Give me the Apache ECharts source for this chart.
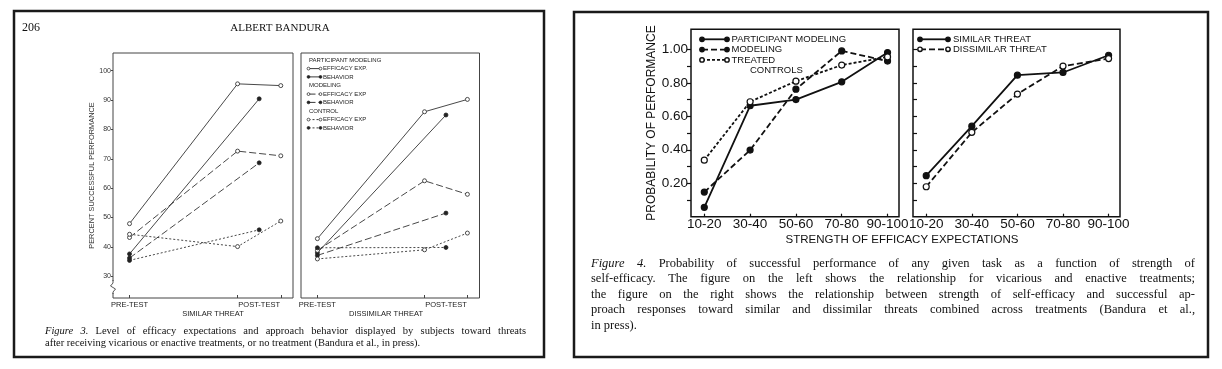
<!DOCTYPE html>
<html>
<head>
<meta charset="utf-8">
<script src="https://cdn.jsdelivr.net/npm/echarts@6/dist/echarts.min.js"></script>
<style>
  html, body { margin: 0; padding: 0; background: #fff; }
  #main { width: 1222px; height: 369px; }
</style>
</head>
<body>
<div id="main"></div>
<script>
// ---- figure 3 data (percent successful performance) ----
const phaseLabels = ["PRE-TEST", "POST-TEST"];
const phaseLabelX = [0, 1.2];
const phaseTickX = [0, 1, 1.4];
const efficacyX = [0, 1, 1.4]; // pre-test, post-test, follow-up
const behaviorX = [0, 1.2];
const fig3Ticks = [30, 40, 50, 60, 70, 80, 90, 100];
const fig3Groups = ["PARTICIPANT MODELING", "MODELING", "CONTROL"];
const fig3Measures = [
  ["EFFICACY EXP.", "BEHAVIOR"],
  ["EFFICACY EXP", "BEHAVIOR"],
  ["EFFICACY EXP", "BEHAVIOR"],
];
// rows: participant modeling, modeling, control
const similarEfficacy = [[47.9, 95.5, 94.9], [43.2, 72.6, 71.0], [44.3, 40.1, 48.8]];
const similarBehavior = [[37.6, 90.4], [36.2, 68.6], [35.4, 45.8]];
const dissimilarEfficacy = [[42.8, 86.0, 90.2], [38.8, 62.5, 57.9], [35.9, 39.0, 44.7]];
const dissimilarBehavior = [[38.0, 84.9], [37.1, 51.5], [39.7, 39.8]];

// ---- figure 4 data (probability of performance) ----
const strengthCats = ["10-20", "30-40", "50-60", "70-80", "90-100"];
const fig4Ticks = [0.1, 0.2, 0.3, 0.4, 0.5, 0.6, 0.7, 0.8, 0.9, 1.0];
const fig4Labels = [0.2, 0.4, 0.6, 0.8, 1.0];
const participantModeling = [0.056, 0.663, 0.70, 0.806, 0.981];
const modeling = [0.147, 0.398, 0.762, 0.991, 0.93];
const treatedControls = [0.338, 0.687, 0.81, 0.906, 0.955];
const similarThreat = [0.245, 0.541, 0.846, 0.862, 0.965];
const dissimilarThreat = [0.179, 0.504, 0.733, 0.90, 0.945];

const fig3Caption = [
  "Figure 3. Level of efficacy expectations and approach behavior displayed by subjects toward threats",
  "after receiving vicarious or enactive treatments, or no treatment (Bandura et al., in press).",
];
const fig4Caption = [
  "Figure 4. Probability of successful performance of any given task as a function of strength of",
  "self-efficacy. The figure on the left shows the relationship for vicarious and enactive treatments;",
  "the figure on the right shows the relationship between strength of self-efficacy and successful ap-",
  "proach responses toward similar and dissimilar threats combined across treatments (Bandura et al.,",
  "in press).",
];

const SANS = "Liberation Sans";
const SERIF = "Liberation Serif";
const fig3Dash = ["solid", [7, 3], [2, 2]];
const fig3Color = "#333";
const fig4Color = "#111";

const pairs = (xs, ys) => ys.map((v, i) => [xs[i], v]);
const catIdx = strengthCats.map((c, i) => i);

function fig3Series(name, grid, xs, ys, dash, filled) {
  return {
    name, type: "line", xAxisIndex: grid, yAxisIndex: grid,
    data: pairs(xs, ys), symbol: "circle", symbolSize: 4, silent: true,
    lineStyle: { color: fig3Color, width: 0.9, type: dash },
    itemStyle: { color: filled ? "#222" : "#fff", borderColor: "#222", borderWidth: 0.8 },
  };
}
function fig4Series(name, grid, ys, dash, filled) {
  return {
    name, type: "line", xAxisIndex: grid, yAxisIndex: grid,
    data: pairs(catIdx, ys), symbol: "circle", symbolSize: 6, silent: true,
    lineStyle: { color: fig4Color, width: 1.8, type: dash },
    itemStyle: { color: filled ? fig4Color : "#fff", borderColor: fig4Color, borderWidth: 1.2 },
  };
}

const series = [];
fig3Groups.forEach((g, i) => {
  series.push(fig3Series(g + " efficacy (similar)", 0, efficacyX, similarEfficacy[i], fig3Dash[i], false));
  series.push(fig3Series(g + " behavior (similar)", 0, behaviorX, similarBehavior[i], fig3Dash[i], true));
  series.push(fig3Series(g + " efficacy (dissimilar)", 1, efficacyX, dissimilarEfficacy[i], fig3Dash[i], false));
  series.push(fig3Series(g + " behavior (dissimilar)", 1, behaviorX, dissimilarBehavior[i], fig3Dash[i], true));
});
series.push(fig4Series("PARTICIPANT MODELING", 2, participantModeling, "solid", true));
series.push(fig4Series("MODELING", 2, modeling, [6, 3], true));
series.push(fig4Series("TREATED CONTROLS", 2, treatedControls, [3, 2], false));
series.push(fig4Series("SIMILAR THREAT", 3, similarThreat, "solid", true));
series.push(fig4Series("DISSIMILAR THREAT", 3, dissimilarThreat, [6, 3], false));

// ---- axes ----
function fig3X(grid) {
  return {
    type: "value", gridIndex: grid, min: -0.153, max: 1.513,
    axisLine: { show: false, onZero: false }, splitLine: { show: false },
    axisTick: { show: true, inside: true, length: 3, customValues: phaseTickX, lineStyle: { color: "#444" } },
    axisLabel: {
      customValues: phaseLabelX, margin: 3, fontSize: 7.5, fontFamily: SANS, color: "#222",
      formatter: (v) => (v < 0.5 ? phaseLabels[0] : phaseLabels[1]),
    },
  };
}
function fig3Y(grid, withLabels) {
  return {
    type: "value", gridIndex: grid, min: 22.6, max: 106,
    axisLine: { show: false, onZero: false }, splitLine: { show: false },
    axisTick: { show: withLabels, length: 2, customValues: fig3Ticks, lineStyle: { color: "#444" } },
    axisLabel: { show: withLabels, customValues: fig3Ticks, margin: 2, fontSize: 7, fontFamily: SANS, color: "#333" },
    name: withLabels ? "PERCENT SUCCESSFUL PERFORMANCE" : "",
    nameLocation: "middle", nameGap: 15,
    nameTextStyle: { fontSize: 7.4, fontFamily: SANS, color: "#333" },
  };
}
function fig4X(grid) {
  return {
    type: "value", gridIndex: grid, min: -0.29, max: 4.25,
    axisLine: { show: false, onZero: false }, splitLine: { show: false },
    axisTick: { show: true, inside: true, length: 3, customValues: catIdx, lineStyle: { color: fig4Color, width: 1.2 } },
    axisLabel: {
      customValues: catIdx, margin: 1, fontSize: 13.5, fontFamily: SANS, color: fig4Color,
      formatter: (v) => strengthCats[Math.round(v)],
    },
  };
}
function fig4Y(grid, withLabels) {
  return {
    type: "value", gridIndex: grid, min: 0, max: 1.12,
    axisLine: { show: false, onZero: false }, splitLine: { show: false },
    axisTick: { show: true, inside: !withLabels, length: 4, customValues: fig4Ticks, lineStyle: { color: fig4Color, width: 1.2 } },
    axisLabel: {
      show: withLabels, customValues: fig4Labels, margin: 3, fontSize: 13.5, fontFamily: SANS, color: fig4Color,
      formatter: (v) => v.toFixed(2),
    },
    name: withLabels ? "PROBABILITY OF PERFORMANCE" : "",
    nameLocation: "middle", nameGap: 32,
    nameTextStyle: { fontSize: 12, fontFamily: SANS, color: fig4Color },
  };
}

// ---- graphic helpers ----
const measureCtx = document.createElement("canvas").getContext("2d");

function text(str, x, y, size, family, opts) {
  const o = opts || {};
  const font = (o.style || "") + " " + size + "px \"" + family + "\"";
  return {
    type: "text", x, y, silent: true,
    style: {
      text: str, font, fill: o.color || "#111",
      textAlign: o.align || "left", align: o.align || "left",
      textVerticalAlign: "middle", verticalAlign: "middle",
    },
  };
}

// caption line, justified to width by spreading word gaps
function captionLine(str, x, y, width, size, justify) {
  const words = str.split(" ");
  const italic = words[0] === "Figure";
  const fonts = words.map((w, i) => (italic && i < 2 ? "italic " : "") + size + "px \"" + SERIF + "\"");
  const widths = words.map((w, i) => { measureCtx.font = fonts[i]; return measureCtx.measureText(w).width; });
  measureCtx.font = size + "px \"" + SERIF + "\"";
  const total = widths.reduce((a, b) => a + b, 0);
  const gap = justify ? (width - total) / (words.length - 1) : measureCtx.measureText(" ").width;
  let cx = x;
  return words.map((w, i) => {
    const el = {
      type: "text", x: cx, y, silent: true,
      style: { text: w, font: fonts[i], fill: "#111", textVerticalAlign: "middle", verticalAlign: "middle" },
    };
    cx += widths[i] + gap;
    return el;
  });
}

function legendKey(x1, x2, y, dash, filled, r, lw, color) {
  const circle = (cx) => ({
    type: "circle", silent: true, shape: { cx, cy: y, r },
    style: { fill: filled ? color : "#fff", stroke: color, lineWidth: lw * 0.8 },
  });
  return [
    { type: "line", silent: true, shape: { x1, y1: y, x2, y2: y }, style: { stroke: color, lineWidth: lw, lineDash: dash === "solid" ? null : dash } },
    circle(x1), circle(x2),
  ];
}

const graphics = [];
// page frames
graphics.push({ type: "rect", silent: true, shape: { x: 14, y: 11, width: 530, height: 346 }, style: { fill: null, stroke: "#1a1a1a", lineWidth: 2.5 } });
graphics.push({ type: "rect", silent: true, shape: { x: 574, y: 12, width: 634, height: 345 }, style: { fill: null, stroke: "#1a1a1a", lineWidth: 2.5 } });
graphics.push(text("206", 22, 28, 12, SERIF));
graphics.push(text("ALBERT BANDURA", 280, 28, 11, SERIF, { align: "center" }));
graphics.push(text("SIMILAR THREAT", 213, 314, 7.5, SANS, { align: "center", color: "#222" }));
graphics.push(text("DISSIMILAR THREAT", 386, 314, 7.5, SANS, { align: "center", color: "#222" }));

// axis break on figure 3
graphics.push({ type: "rect", silent: true, shape: { x: 111, y: 281, width: 5, height: 12 }, style: { fill: "#fff" } });
graphics.push({ type: "polyline", silent: true, shape: { points: [[113, 280], [113, 283], [110.5, 286], [115.5, 289], [113, 292], [113, 294]] }, style: { fill: null, stroke: "#444", lineWidth: 0.9 } });

// figure 3 legend
let ly = 60;
fig3Groups.forEach((g, i) => {
  graphics.push(text(g, 309, ly, 6, SANS, { color: "#222" }));
  ly += 8.6;
  fig3Measures[i].forEach((m, j) => {
    graphics.push(...legendKey(308.5, 320.5, ly, fig3Dash[i], j === 1, 1.4, 0.9, "#222"));
    graphics.push(text(m, 323, ly, 6, SANS, { color: "#222" }));
    ly += j === 0 ? 8.3 : 8.6;
  });
});

// figure 4 legends
const fig4LeftKeys = [["PARTICIPANT MODELING", "solid", true], ["MODELING", [6, 3], true], ["TREATED", [3, 2], false]];
fig4LeftKeys.forEach((k, i) => {
  const y = 39.3 + i * 10.3;
  graphics.push(...legendKey(702, 727, y, k[1], k[2], 2.2, 1.8, fig4Color));
  graphics.push(text(k[0], 731.5, y, 9.5, SANS));
});
graphics.push(text("CONTROLS", 750, 70.7, 9.5, SANS));
const fig4RightKeys = [["SIMILAR THREAT", "solid", true], ["DISSIMILAR THREAT", [6, 3], false]];
fig4RightKeys.forEach((k, i) => {
  const y = 39.3 + i * 10;
  graphics.push(...legendKey(920, 948, y, k[1], k[2], 2.2, 1.8, fig4Color));
  graphics.push(text(k[0], 953, y, 9.5, SANS));
});
graphics.push(text("STRENGTH OF EFFICACY EXPECTATIONS", 902, 240, 11.5, SANS, { align: "center" }));

// captions
fig3Caption.forEach((line, i) => {
  graphics.push(...captionLine(line, 45, 331 + i * 12.3, 481, 10.5, i < fig3Caption.length - 1));
});
fig4Caption.forEach((line, i) => {
  graphics.push(...captionLine(line, 591, 263.3 + i * 15.6, 604, 12.5, i < fig4Caption.length - 1));
});

const chart = echarts.init(document.getElementById("main"));
chart.setOption({
  animation: false,
  backgroundColor: "#fff",
  grid: [
    { left: 113, top: 53, width: 180, height: 245, show: true, borderColor: "#444", borderWidth: 1, backgroundColor: "transparent" },
    { left: 301, top: 53, width: 178.5, height: 245, show: true, borderColor: "#444", borderWidth: 1, backgroundColor: "transparent" },
    { left: 691, top: 29.3, width: 208, height: 187.4, show: true, borderColor: fig4Color, borderWidth: 1.5, backgroundColor: "transparent" },
    { left: 913, top: 29.3, width: 207, height: 187.4, show: true, borderColor: fig4Color, borderWidth: 1.5, backgroundColor: "transparent" },
  ],
  xAxis: [fig3X(0), fig3X(1), fig4X(2), fig4X(3)],
  yAxis: [fig3Y(0, true), fig3Y(1, false), fig4Y(2, true), fig4Y(3, false)],
  series,
  graphic: { elements: graphics },
});
</script>
</body>
</html>
